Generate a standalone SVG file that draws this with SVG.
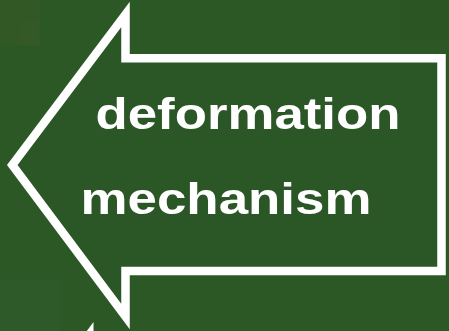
<svg xmlns="http://www.w3.org/2000/svg" width="449" height="331" viewBox="0 0 449 331">
  <defs>
    <style>
      .bg { fill: #2c5826; }
      .arrow { fill: #2b5625; stroke: #ffffff; stroke-width: 8.5; stroke-linejoin: miter; stroke-miterlimit: 20; }
      .label { font-family: "Liberation Sans", Arial, sans-serif; font-weight: bold; font-size: 45px; fill: #ffffff; }
      .frag { fill: #ffffff; }
    </style>
  </defs>
  <rect class="bg" x="0" y="0" width="449" height="331"/>
  <g id="texture" opacity="0.3">
    <rect x="0" y="0" width="40" height="45" fill="#3d5a25"/>
    <rect x="20" y="20" width="18" height="25" fill="#4a5a2a"/>
    <rect x="0" y="110" width="30" height="60" fill="#2f5a28"/>
    <rect x="0" y="280" width="60" height="51" fill="#356030"/>
    <rect x="400" y="0" width="49" height="40" fill="#2a5220"/>
  </g>
  <g id="arrow-node">
    <path class="arrow" d="M125.5,58.3 L441.5,58.3 L441.5,271 L125.5,271 L125.5,316.5 L12.3,165 L125.5,14.5 Z"/>
    <text class="label" x="95.5" y="129" textLength="305" lengthAdjust="spacingAndGlyphs">deformation</text>
    <text class="label" x="80.5" y="214" textLength="291" lengthAdjust="spacingAndGlyphs">mechanism</text>
  </g>
  <g id="next-arrow-fragment">
    <polygon class="frag" points="93.5,322 93.5,331 86.8,331"/>
  </g>
  <g id="connectors"></g>
</svg>
